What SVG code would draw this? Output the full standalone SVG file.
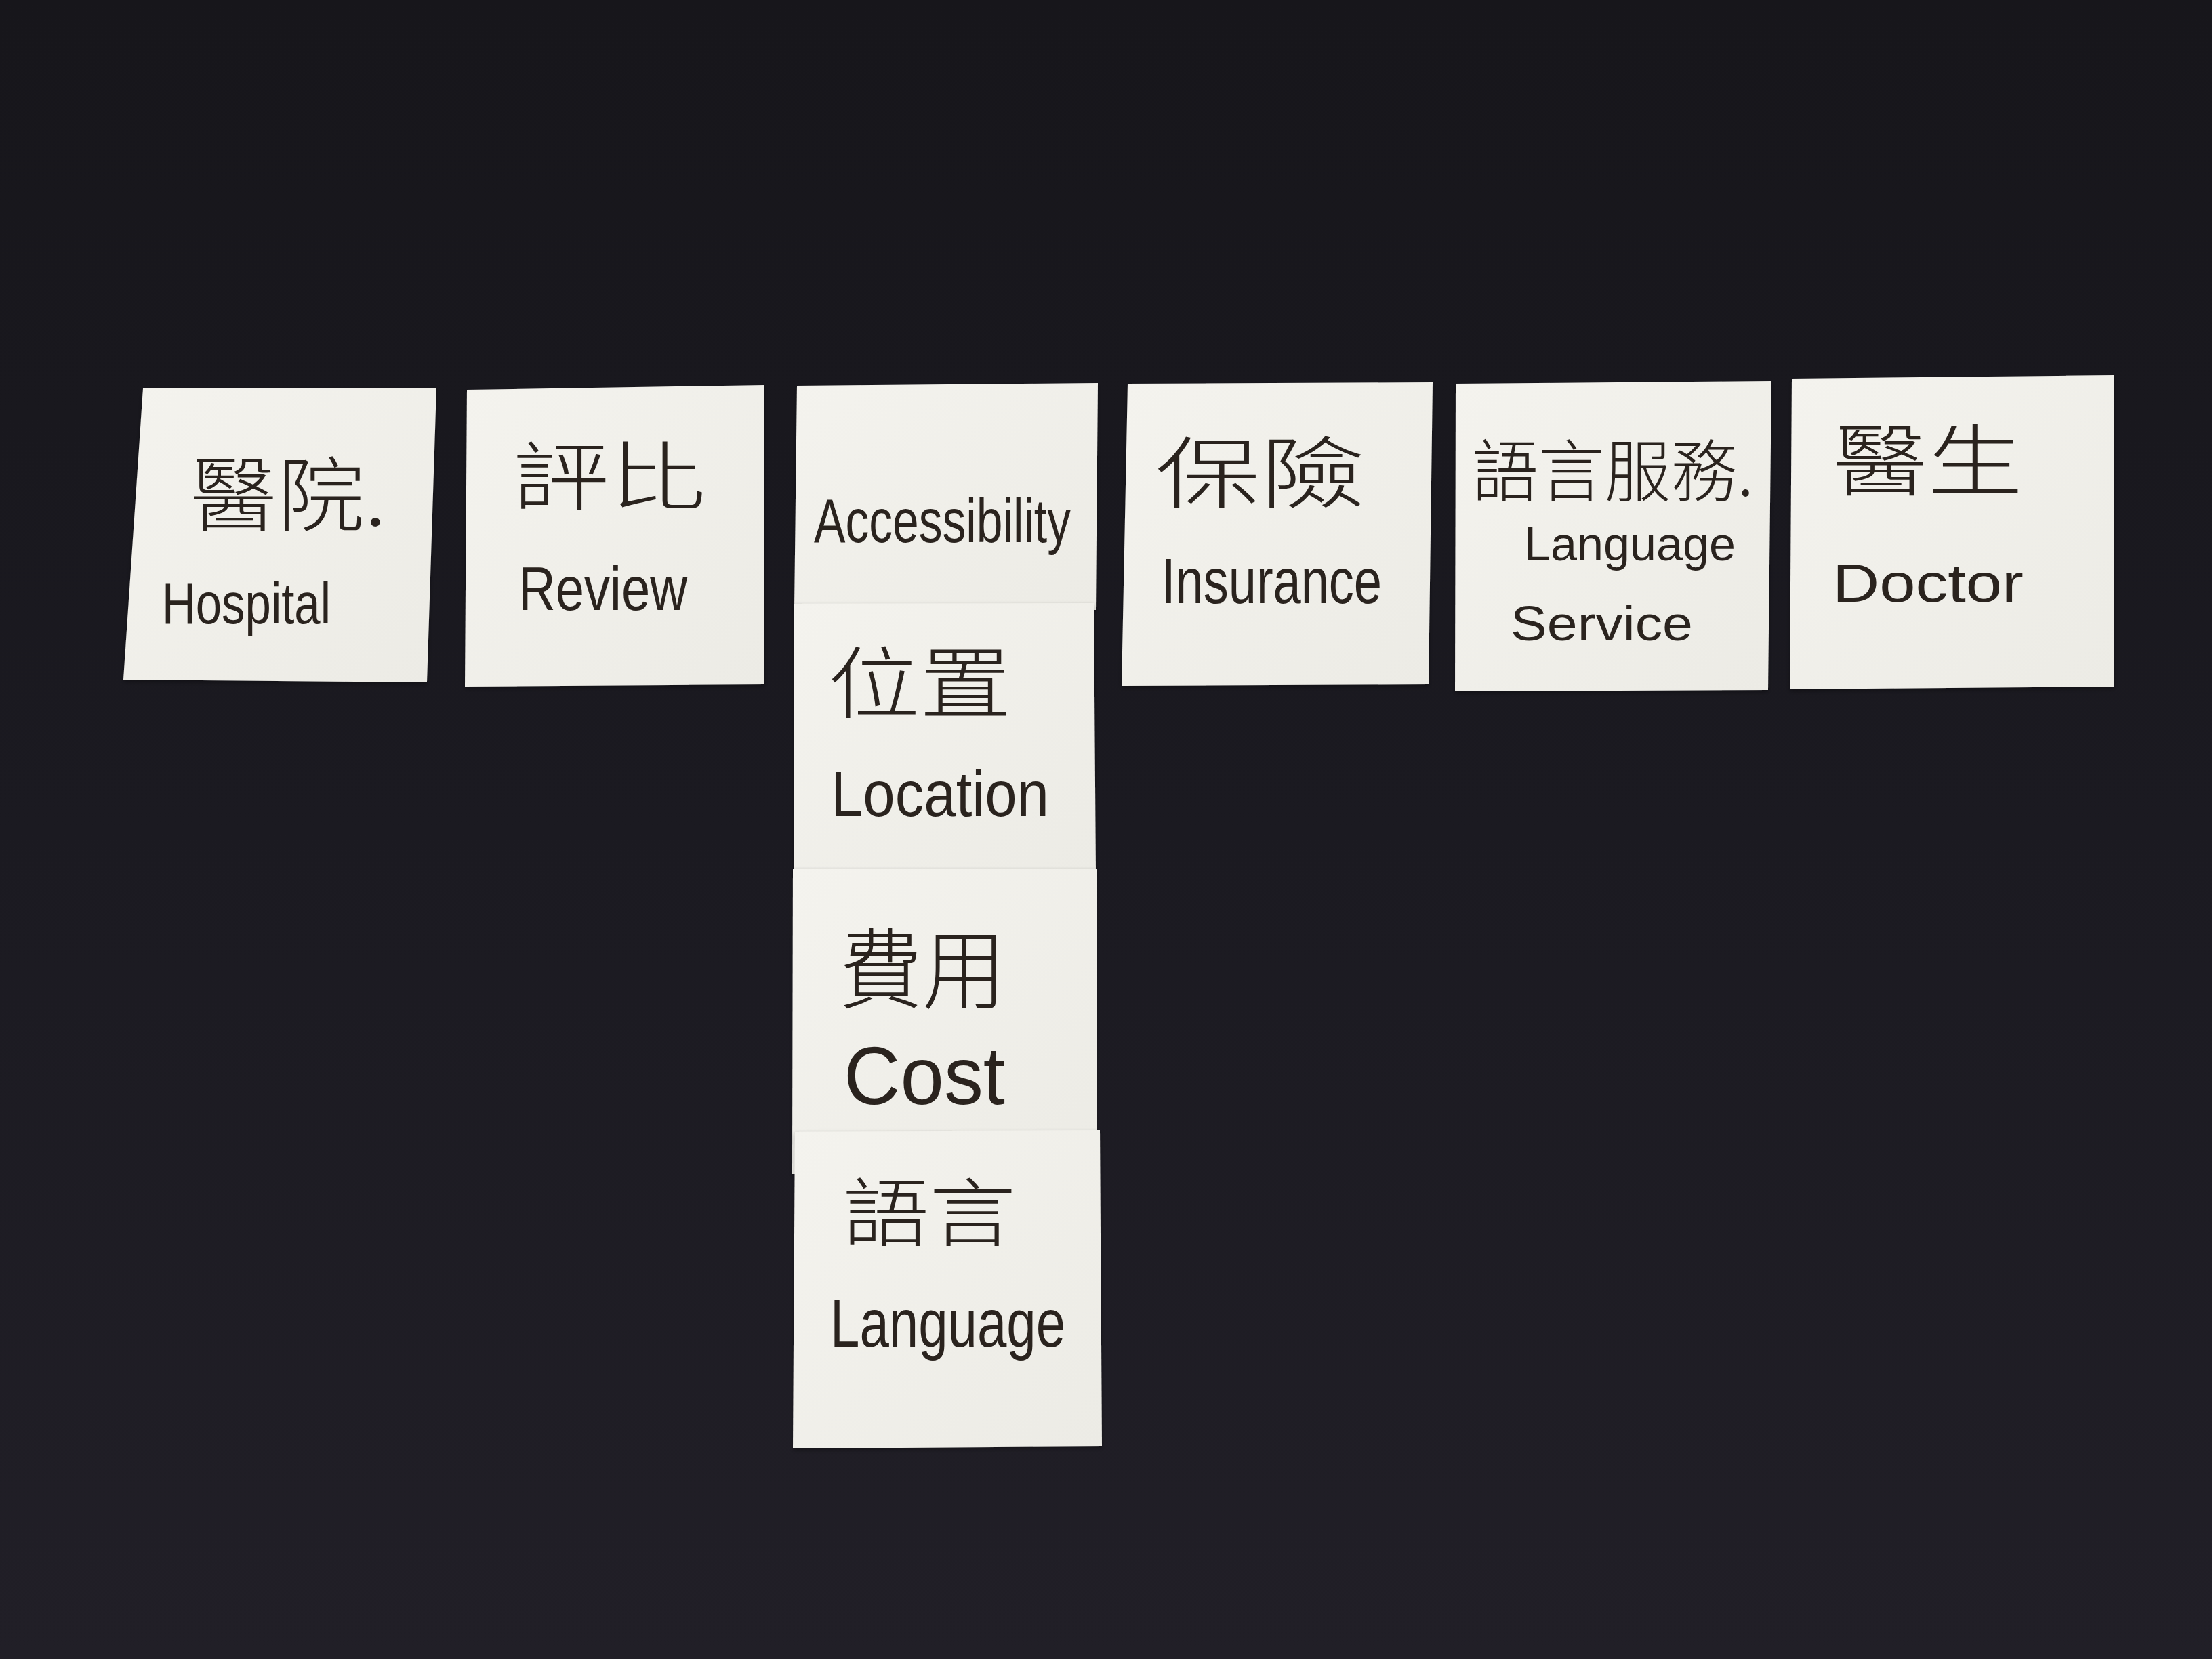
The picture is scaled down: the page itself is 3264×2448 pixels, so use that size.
<svg xmlns="http://www.w3.org/2000/svg" width="3264" height="2448" viewBox="0 0 3264 2448">
  <defs>
    <linearGradient id="bg" x1="0" y1="0" x2="0" y2="1">
      <stop offset="0" stop-color="#17161b"/>
      <stop offset="0.5" stop-color="#1b1a21"/>
      <stop offset="1" stop-color="#211f27"/>
    </linearGradient>
    <linearGradient id="paper" x1="0" y1="0" x2="1" y2="1">
      <stop offset="0" stop-color="#f4f3ee"/>
      <stop offset="1" stop-color="#ecebe5"/>
    </linearGradient>
    <filter id="shadow" x="-5%" y="-5%" width="110%" height="110%">
      <feDropShadow dx="0" dy="3" stdDeviation="3" flood-color="#000" flood-opacity="0.35"/>
    </filter>
    <style>
      .note { fill: url(#paper); filter: url(#shadow); }
      .zh { font-family: "Noto Sans CJK TC", "Noto Sans CJK SC", sans-serif; font-weight: 300; fill: #2a231e; }
      .en { font-family: "Liberation Sans", "Noto Sans", sans-serif; font-weight: 400; fill: #2a231e; }
    </style>
  </defs>

  <rect x="0" y="0" width="3264" height="2448" fill="url(#bg)"/>

  <g id="note-hospital">
    <polygon class="note" points="211,573 644,572 630,1007 182,1003"/>
    <text class="zh" x="280" y="775" font-size="120" textLength="290" lengthAdjust="spacingAndGlyphs">醫院.</text>
    <text class="en" x="239" y="920" font-size="85" textLength="249" lengthAdjust="spacingAndGlyphs">Hospital</text>
  </g>

  <g id="note-review">
    <polygon class="note" points="689,575 1128,568 1128,1010 686,1013"/>
    <text class="zh" x="756" y="744" font-size="110" textLength="286" lengthAdjust="spacingAndGlyphs">評比</text>
    <text class="en" x="765" y="900" font-size="90" textLength="249" lengthAdjust="spacingAndGlyphs">Review</text>
  </g>

  <g id="note-accessibility">
    <polygon class="note" points="1176,569 1620,565 1617,900 1172,900"/>
    <text class="en" x="1201" y="800" font-size="90" textLength="379" lengthAdjust="spacingAndGlyphs">Accessibility</text>
  </g>

  <g id="note-insurance">
    <polygon class="note" points="1664,566 2114,564 2108,1010 1655,1012"/>
    <text class="zh" x="1705" y="740" font-size="115" textLength="310" lengthAdjust="spacingAndGlyphs">保險</text>
    <text class="en" x="1714" y="890" font-size="95" textLength="325" lengthAdjust="spacingAndGlyphs">Insurance</text>
  </g>

  <g id="note-language-service">
    <polygon class="note" points="2148,566 2614,562 2609,1018 2147,1020"/>
    <text class="zh" x="2172" y="732" font-size="100" textLength="416" lengthAdjust="spacingAndGlyphs">語言服務.</text>
    <text class="en" x="2249" y="827" font-size="70" textLength="312" lengthAdjust="spacingAndGlyphs">Language</text>
    <text class="en" x="2229" y="945" font-size="72" textLength="269" lengthAdjust="spacingAndGlyphs">Service</text>
  </g>

  <g id="note-doctor">
    <polygon class="note" points="2644,559 3120,554 3120,1013 2641,1017"/>
    <text class="zh" x="2704" y="722" font-size="115" textLength="280" lengthAdjust="spacingAndGlyphs">醫生</text>
    <text class="en" x="2704" y="888" font-size="80" textLength="282" lengthAdjust="spacingAndGlyphs">Doctor</text>
  </g>

  <g id="note-location">
    <polygon class="note" points="1172,891 1614,890 1617,1290 1171,1290"/>
    <text class="zh" x="1222" y="1050" font-size="115" textLength="270" lengthAdjust="spacingAndGlyphs">位置</text>
    <text class="en" x="1226" y="1204" font-size="95" textLength="322" lengthAdjust="spacingAndGlyphs">Location</text>
  </g>

  <g id="note-cost">
    <polygon class="note" points="1170,1282 1618,1282 1618,1700 1169,1733"/>
    <text class="zh" x="1238" y="1478" font-size="130" textLength="246" lengthAdjust="spacingAndGlyphs">費用</text>
    <text class="en" x="1245" y="1629" font-size="120" textLength="238" lengthAdjust="spacingAndGlyphs">Cost</text>
  </g>

  <g id="note-language">
    <polygon class="note" points="1173,1670 1623,1668 1626,2134 1170,2137"/>
    <text class="zh" x="1243" y="1830" font-size="110" textLength="256" lengthAdjust="spacingAndGlyphs">語言</text>
    <text class="en" x="1225" y="1987" font-size="100" textLength="347" lengthAdjust="spacingAndGlyphs">Language</text>
  </g>
</svg>
